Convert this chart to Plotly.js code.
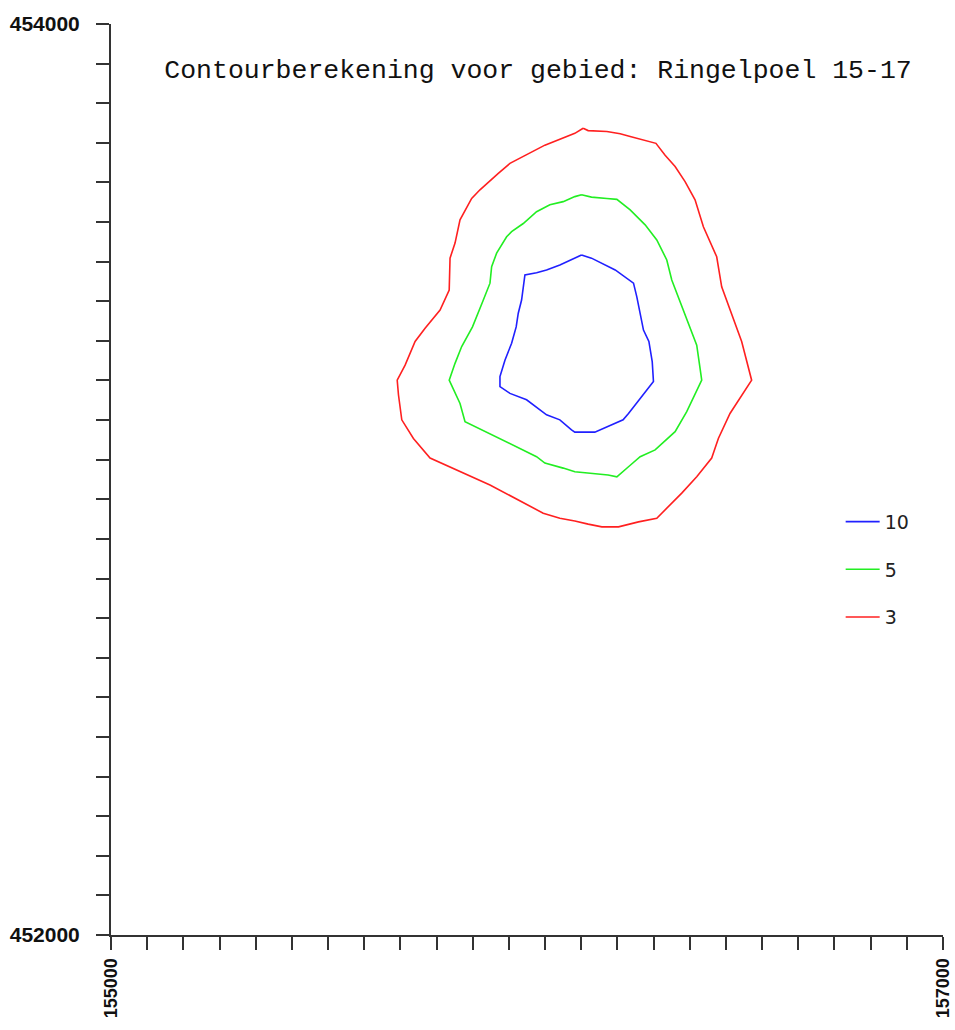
<!DOCTYPE html>
<html>
<head>
<meta charset="utf-8">
<script src="https://cdn.plot.ly/plotly-3.0.1.min.js"></script>
<style>html,body{margin:0;padding:0;background:#fff;}#chart{width:955px;height:1030px;}</style>
</head>
<body>
<div id="chart"></div>
<script>
// Contour levels and their legend labels
const levels = ['10', '5', '3'];
const levelColors = ['#2020ff', '#22ee22', '#ff2020'];

// Contour level 10 (blue)
const x10 = [156131,156155,156212,156236,156256,156264,156272,156280,156293,156301,156304,156264,156244,156231,156195,156163,156115,156107,156079,156047,155999,155959,155935,155935,155947,155963,155974,155979,155987,155991,155995,156023,156047,156079,156103,156115,156131];
const y10 = [453493,453486,453460,453445,453431,453401,453365,453328,453303,453259,453215,453167,453145,453131,453116,453104,453104,453109,453131,453142,453175,453189,453204,453226,453262,453299,453335,453365,453394,453423,453449,453454,453460,453471,453482,453486,453493];

// Contour level 5 (green)
const x5 = [156131,156155,156192,156216,156248,156284,156312,156336,156348,156372,156392,156408,156416,156420,156384,156356,156308,156272,156244,156216,156195,156115,156087,156043,156023,155879,155851,155839,155813,155827,155843,155869,155883,155895,155911,155915,155927,155951,155963,155991,156023,156043,156055,156087,156115,156131];
const y5 = [453625,453620,453617,453615,453592,453559,453526,453482,453438,453379,453332,453295,453244,453218,453149,453105,453065,453050,453028,453006,453010,453017,453025,453036,453050,453116,453127,453167,453218,453255,453292,453335,453365,453394,453431,453467,453497,453533,453544,453562,453588,453598,453603,453610,453621,453625];

// Contour level 3 (red)
const x3 = [156135,156147,156192,156224,156248,156310,156332,156356,156380,156404,156424,156456,156468,156492,156516,156540,156488,156460,156444,156408,156372,156312,156268,156220,156180,156147,156115,156079,156039,155911,155811,155767,155727,155699,155691,155688,155707,155731,155755,155771,155791,155813,155815,155827,155839,155867,155887,155931,155959,156043,156103,156115,156135];
const y3 = [453771,453766,453764,453759,453753,453738,453712,453687,453654,453614,453555,453489,453423,453365,453303,453218,453145,453090,453047,453006,452970,452915,452907,452896,452896,452902,452909,452915,452926,452988,453028,453047,453090,453131,453186,453218,453251,453303,453332,453350,453372,453416,453486,453519,453570,453617,453636,453672,453694,453734,453756,453760,453771];

// Axis ranges and tick labels
const xRange = [155000, 157000];
const yRange = [452000, 454000];
const tickCount = 24;
const xEndLabels = ['155000', '157000'];
const yEndLabels = ['452000', '454000'];

function ticks(range, ends) {
  const vals = [], text = [];
  for (let i = 0; i < tickCount; i++) {
    vals.push(range[0] + i * (range[1] - range[0]) / (tickCount - 1));
    text.push(i === 0 ? ends[0] : (i === tickCount - 1 ? ends[1] : ''));
  }
  return {vals, text};
}
const xt = ticks(xRange, xEndLabels);
const yt = ticks(yRange, yEndLabels);

const series = [[x10, y10], [x5, y5], [x3, y3]];
const traces = series.map((s, i) => ({
  type: 'scatter', mode: 'lines',
  x: s[0], y: s[1],
  name: levels[i], legendgroup: 'g' + i,
  line: {color: levelColors[i], width: 1.6},
  hoverinfo: 'skip'
}));

const axisCommon = {
  showgrid: false, zeroline: false, showline: true,
  linecolor: '#333', linewidth: 2,
  ticks: 'outside', ticklen: 13, tickwidth: 2, tickcolor: '#333',
  tickmode: 'array'
};

const layout = {
  width: 955, height: 1030,
  margin: {l: 111, r: 12, t: 24, b: 95},
  paper_bgcolor: '#fff', plot_bgcolor: '#fff',
  showlegend: true,
  title: {
    text: 'Contourberekening voor gebied: Ringelpoel 15-17',
    font: {family: 'Liberation Mono, Courier New, monospace', size: 26.5, color: '#111'},
    x: 538 / 955, xanchor: 'center', xref: 'container',
    y: 1 - 69 / 1030, yanchor: 'middle', yref: 'container'
  },
  xaxis: Object.assign({}, axisCommon, {
    range: xRange, tickvals: xt.vals, ticktext: xt.text, tickangle: -90,
    ticklabelstandoff: 1,
    tickfont: {family: 'Liberation Sans, Arial, sans-serif', size: 18, color: '#111', weight: 'bold'}
  }),
  yaxis: Object.assign({}, axisCommon, {
    range: yRange, tickvals: yt.vals, ticktext: yt.text,
    ticklabelstandoff: 12,
    tickfont: {family: 'Liberation Sans, Arial, sans-serif', size: 21, color: '#111', weight: 'bold'}
  }),
  legend: {
    x: 0.877, xanchor: 'left', y: 0.4745, yanchor: 'top',
    font: {family: 'DejaVu Sans, sans-serif', size: 19, color: '#222'},
    bgcolor: 'rgba(0,0,0,0)', borderwidth: 0,
    itemwidth: 34, tracegroupgap: 20, traceorder: 'grouped'
  }
};

Plotly.newPlot('chart', traces, layout, {displayModeBar: false, staticPlot: true});
</script>
</body>
</html>
